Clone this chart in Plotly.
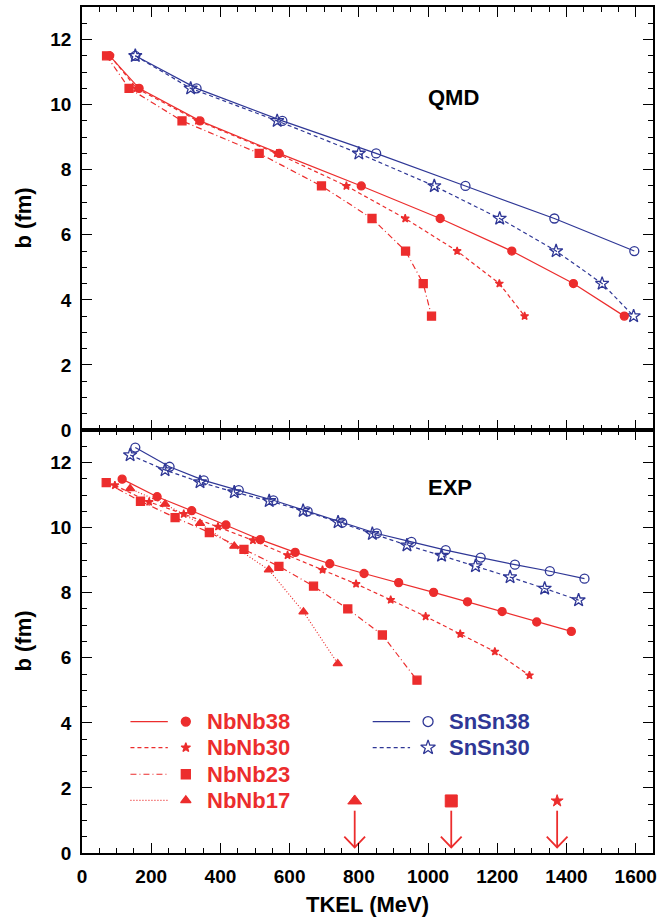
import plotly.graph_objects as go
from plotly.subplots import make_subplots

RED = '#ec2d2d'
BLUE = '#2f3796'
FONT = 'Liberation Sans, Arial, sans-serif'

# ---- QMD (top panel) ----
qmd_b_nb = [11.5, 10.5, 9.5, 8.5, 7.5, 6.5, 5.5, 4.5, 3.5]
qmd_nbnb38 = [80, 165, 341, 570, 807, 1035, 1242, 1420, 1567]
qmd_nbnb30 = [81, 158, 335, 563, 764, 934, 1084, 1206, 1279]
qmd_nbnb23 = [71, 136, 289, 512, 692, 838, 935, 986, 1010]

qmd_b_sn38 = [11.5, 10.5, 9.5, 8.5, 7.5, 6.5, 5.5]
qmd_snsn38 = [154, 331, 579, 850, 1108, 1365, 1596]
qmd_b_sn30 = [11.5, 10.5, 9.5, 8.5, 7.5, 6.5, 5.5, 4.5, 3.5]
qmd_snsn30 = [154, 314, 564, 800, 1018, 1207, 1370, 1503, 1594]

# ---- EXP (bottom panel) ----
exp_snsn38_x = [154, 253, 352, 453, 553, 652, 752, 852, 952, 1051, 1152, 1251, 1352, 1452]
exp_snsn38_b = [12.46, 11.87, 11.45, 11.15, 10.84, 10.50, 10.15, 9.82, 9.56, 9.31, 9.08, 8.86, 8.66, 8.43]
exp_snsn30_x = [139, 240, 341, 440, 541, 639, 740, 839, 939, 1039, 1137, 1237, 1337, 1435]
exp_snsn30_b = [12.23, 11.77, 11.40, 11.09, 10.82, 10.52, 10.17, 9.81, 9.46, 9.14, 8.82, 8.48, 8.13, 7.77]
exp_nbnb38_x = [116, 217, 317, 416, 515, 616, 716, 815, 915, 1016, 1114, 1214, 1314, 1414]
exp_nbnb38_b = [11.49, 10.95, 10.52, 10.08, 9.63, 9.24, 8.89, 8.59, 8.31, 8.01, 7.72, 7.42, 7.10, 6.81]
exp_nbnb30_x = [95, 194, 294, 393, 494, 594, 695, 792, 892, 993, 1093, 1193, 1293]
exp_nbnb30_b = [11.30, 10.79, 10.42, 10.03, 9.61, 9.15, 8.70, 8.27, 7.78, 7.27, 6.73, 6.19, 5.46]
exp_nbnb23_x = [70, 169, 269, 368, 468, 569, 669, 768, 868, 968]
exp_nbnb23_b = [11.38, 10.81, 10.31, 9.85, 9.33, 8.81, 8.20, 7.50, 6.70, 5.31]
exp_nbnb17_x = [139, 240, 341, 440, 540, 640, 739]
exp_nbnb17_b = [11.20, 10.72, 10.13, 9.43, 8.70, 7.41, 5.82]

# limits marked with arrows (NbNb17, NbNb23, NbNb30)
arrow_x = [788, 1067, 1373]
arrow_symbols = ['triangle-up', 'square', 'star']

styles = {
    'NbNb38': dict(color=RED, dash='solid', symbol='circle', size=8),
    'NbNb30': dict(color=RED, dash='4px,3px', symbol='star', size=6),
    'NbNb23': dict(color=RED, dash='6px,3px,1px,3px', symbol='square', size=8),
    'NbNb17': dict(color=RED, dash='1px,2px', symbol='triangle-up', size=8),
    'SnSn38': dict(color=BLUE, dash='solid', symbol='circle-open', size=9),
    'SnSn30': dict(color=BLUE, dash='4px,3px', symbol='star-open', size=10),
}


def series(x, y, name):
    s = styles[name]
    return go.Scatter(x=x, y=y, mode='lines+markers', name=name, showlegend=False,
                      line=dict(color=s['color'], width=1.2, dash=s['dash']),
                      marker=dict(symbol=s['symbol'], size=s['size'], color=s['color'],
                                  line=dict(color=s['color'], width=1.3)))


fig = make_subplots(rows=2, cols=1, vertical_spacing=0.0)

fig.add_trace(series(qmd_snsn38, qmd_b_sn38, 'SnSn38'), row=1, col=1)
fig.add_trace(series(qmd_snsn30, qmd_b_sn30, 'SnSn30'), row=1, col=1)
fig.add_trace(series(qmd_nbnb38, qmd_b_nb, 'NbNb38'), row=1, col=1)
fig.add_trace(series(qmd_nbnb30, qmd_b_nb, 'NbNb30'), row=1, col=1)
fig.add_trace(series(qmd_nbnb23, qmd_b_nb, 'NbNb23'), row=1, col=1)

fig.add_trace(series(exp_snsn38_x, exp_snsn38_b, 'SnSn38'), row=2, col=1)
fig.add_trace(series(exp_snsn30_x, exp_snsn30_b, 'SnSn30'), row=2, col=1)
fig.add_trace(series(exp_nbnb38_x, exp_nbnb38_b, 'NbNb38'), row=2, col=1)
fig.add_trace(series(exp_nbnb30_x, exp_nbnb30_b, 'NbNb30'), row=2, col=1)
fig.add_trace(series(exp_nbnb23_x, exp_nbnb23_b, 'NbNb23'), row=2, col=1)
fig.add_trace(series(exp_nbnb17_x, exp_nbnb17_b, 'NbNb17'), row=2, col=1)

# hand-made legend inside the lower panel
legend_rows = [4.04, 3.24, 2.42, 1.62]
left_names = ['NbNb38', 'NbNb30', 'NbNb23', 'NbNb17']
right_names = ['SnSn38', 'SnSn30']
for names, x0 in [(left_names, 140), (right_names, 840)]:
    for name, yb in zip(names, legend_rows):
        s = styles[name]
        fig.add_trace(go.Scatter(x=[x0, x0 + 108], y=[yb, yb], mode='lines', showlegend=False,
                                 line=dict(color=s['color'], width=1.2, dash=s['dash'])), row=2, col=1)
        fig.add_trace(go.Scatter(x=[x0 + 160], y=[yb], mode='markers', showlegend=False,
                                 marker=dict(symbol=s['symbol'], size=s['size'] + 1, color=s['color'],
                                             line=dict(color=s['color'], width=1.3))), row=2, col=1)
        fig.add_annotation(x=x0 + 214, y=yb, text='<b>%s</b>' % name, showarrow=False,
                           xanchor='left', yanchor='middle', xref='x2', yref='y2',
                           font=dict(family=FONT, size=22, color=s['color']))

# arrows with their symbols
ax_, ay_ = [], []
for xa in arrow_x:
    ax_ += [xa, xa, None, xa - 30, xa, xa + 30, None]
    ay_ += [1.3, 0.17, None, 0.5, 0.17, 0.5, None]
fig.add_trace(go.Scatter(x=ax_, y=ay_, mode='lines', showlegend=False,
                         line=dict(color=RED, width=1.8)), row=2, col=1)
fig.add_trace(go.Scatter(x=arrow_x, y=[1.6] * 3, mode='markers', showlegend=False,
                         marker=dict(symbol=arrow_symbols, size=[12, 12, 9], color=RED, opacity=1,
                                     line=dict(color=RED, width=1))), row=2, col=1)

fig.add_annotation(x=1074, y=10.22, text='<b>QMD</b>', showarrow=False, xref='x', yref='y',
                   font=dict(family=FONT, size=22, color='black'))
fig.add_annotation(x=1062, y=11.23, text='<b>EXP</b>', showarrow=False, xref='x2', yref='y2',
                   font=dict(family=FONT, size=22, color='black'))

# axis titles placed by hand
title_font = dict(family=FONT, size=22, color='black')
for yc in [0.75, 0.25]:
    fig.add_annotation(x=0, y=yc, xref='paper', yref='paper', xshift=-59, text='<b>b (fm)</b>',
                       textangle=-90, showarrow=False, font=title_font,
                       xanchor='center', yanchor='middle')
fig.add_annotation(x=0.5, y=0, xref='paper', yref='paper', yshift=-51, text='<b>TKEL (MeV)</b>',
                   showarrow=False, font=title_font, xanchor='center', yanchor='middle')

axis_common = dict(showgrid=False, zeroline=False, showline=True, linecolor='black', linewidth=1.5,
                   mirror='allticks', ticks='inside', tickcolor='black', tickwidth=1.3,
                   automargin=False, tickprefix='<b>', ticksuffix='</b>',
                   tickfont=dict(family=FONT, size=19, color='black'))
fig.update_xaxes(range=[0, 1650], dtick=200, tick0=0, ticklen=10, ticklabelstandoff=5,
                 minor=dict(dtick=50, ticklen=5, ticks='inside', tickcolor='black', tickwidth=1.2),
                 **axis_common)
fig.update_xaxes(showticklabels=False, row=1, col=1)
fig.update_yaxes(range=[0, 13], dtick=2, tick0=0, ticklen=10, ticklabelstandoff=5,
                 minor=dict(dtick=0.5, ticklen=5, ticks='inside', tickcolor='black', tickwidth=1.2),
                 **axis_common)

fig.update_layout(width=663, height=920, margin=dict(l=82, r=10, t=7, b=67),
                  plot_bgcolor='white', paper_bgcolor='white', showlegend=False)

fig.write_html("out.html", config={'displayModeBar': False},
               post_script="document.body.style.margin='0';")
